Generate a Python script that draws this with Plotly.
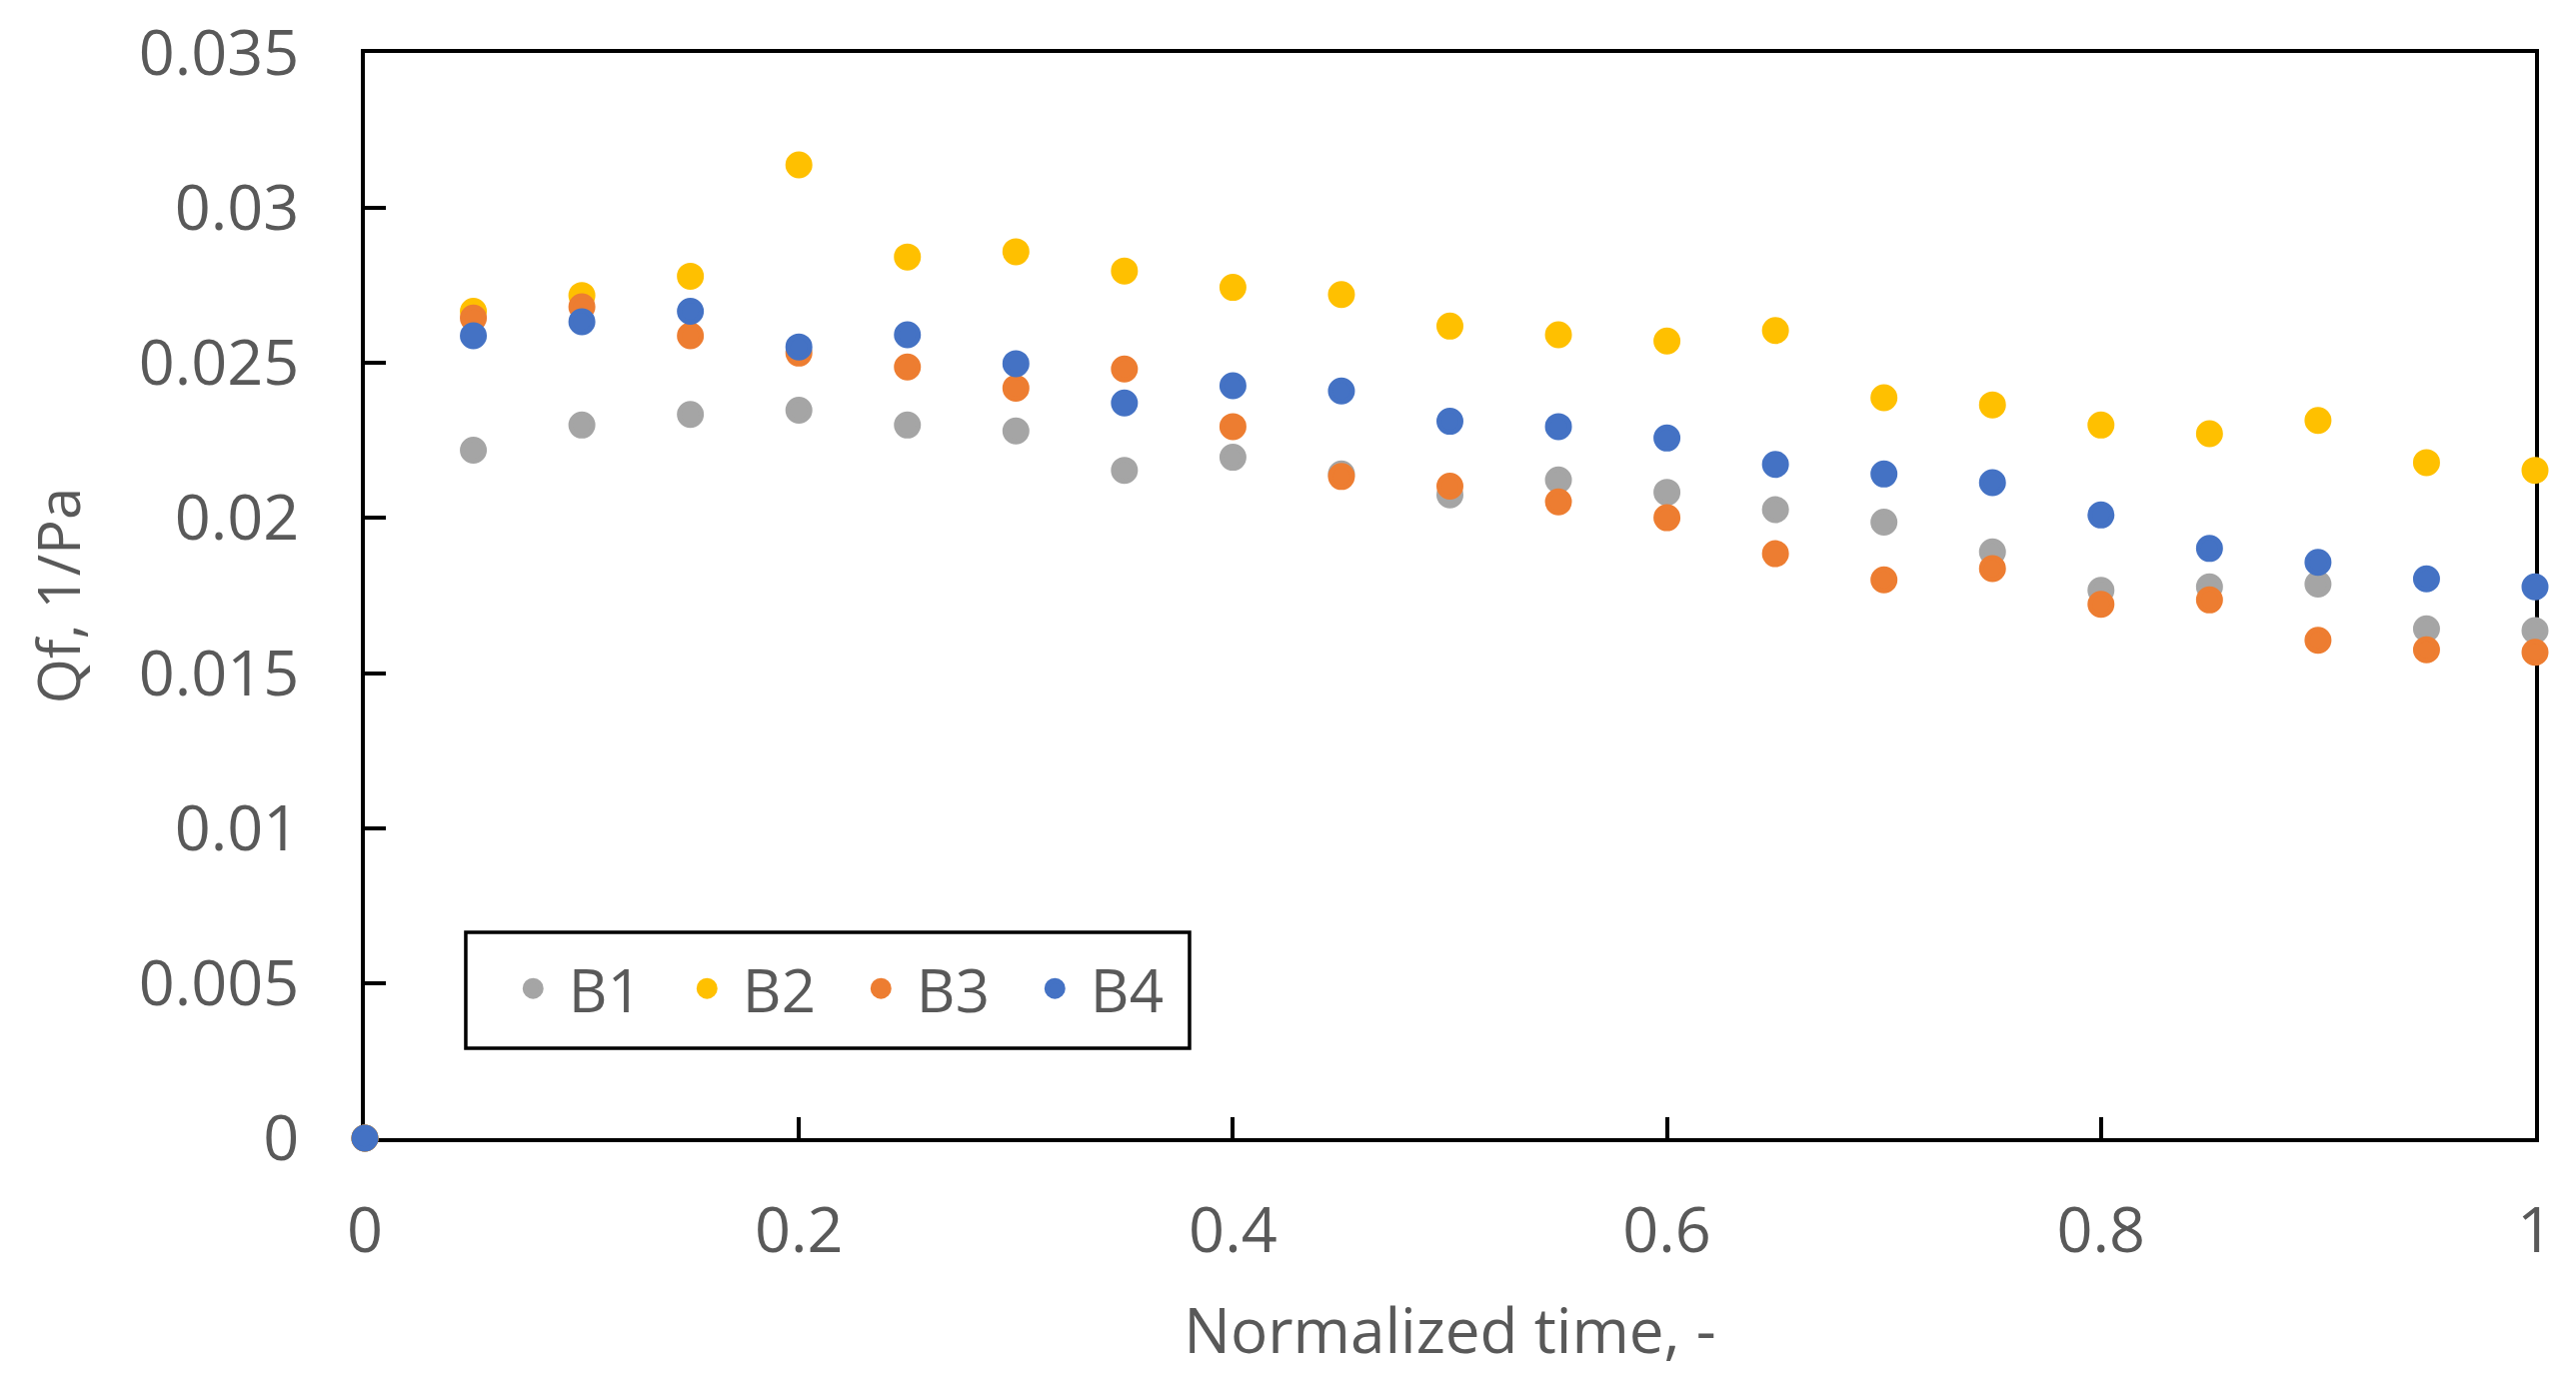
import plotly.graph_objects as go

x_vals = [0, 0.05, 0.1, 0.15, 0.2, 0.25, 0.3, 0.35, 0.4, 0.45, 0.5,
          0.55, 0.6, 0.65, 0.7, 0.75, 0.8, 0.85, 0.9, 0.95, 1.0]

b1 = [0, 0.02219, 0.02300, 0.02334, 0.02348, 0.02300, 0.02281, 0.02154, 0.02196, 0.02142, 0.02075,
      0.02123, 0.02083, 0.02027, 0.01987, 0.01891, 0.01767, 0.01778, 0.01787, 0.01643, 0.01637]
b2 = [0, 0.02667, 0.02718, 0.02780, 0.03139, 0.02842, 0.02859, 0.02797, 0.02744, 0.02721, 0.02619,
      0.02591, 0.02571, 0.02605, 0.02388, 0.02365, 0.02300, 0.02272, 0.02315, 0.02179, 0.02154]
b3 = [0, 0.02645, 0.02681, 0.02588, 0.02532, 0.02487, 0.02419, 0.02481, 0.02295, 0.02134, 0.02103,
      0.02052, 0.02001, 0.01885, 0.01801, 0.01837, 0.01722, 0.01736, 0.01606, 0.01575, 0.01567]
b4 = [0, 0.02588, 0.02633, 0.02667, 0.02552, 0.02591, 0.02498, 0.02371, 0.02427, 0.02410, 0.02312,
      0.02295, 0.02258, 0.02173, 0.02142, 0.02114, 0.02010, 0.01902, 0.01857, 0.01804, 0.01778]

series_names = ["B1", "B2", "B3", "B4"]
series_colors = ["#A5A5A5", "#FFC000", "#ED7D31", "#4472C4"]
series_values = [b1, b2, b3, b4]

x_tickvals = [0, 0.2, 0.4, 0.6, 0.8, 1]
x_ticktext = ["0", "0.2", "0.4", "0.6", "0.8", "1"]
y_tickvals = [0, 0.005, 0.01, 0.015, 0.02, 0.025, 0.03, 0.035]
y_ticktext = ["0", "0.005", "0.01", "0.015", "0.02", "0.025", "0.03", "0.035"]

FONT = "Open Sans"
TXT = "#595959"

fig = go.Figure()
for name, color, vals in zip(series_names, series_colors, series_values):
    fig.add_trace(go.Scatter(
        x=x_vals, y=vals, mode="markers", name="\u00a0" + name,
        marker=dict(color=color, size=22, line=dict(width=5, color=color)),
        cliponaxis=False,
    ))

axis_common = dict(
    showline=True, linecolor="black", linewidth=4, mirror=True,
    showgrid=False, zeroline=False, ticks="inside", tickcolor="black",
    tickwidth=4, ticklen=21, layer="below traces", automargin=False,
    tickfont=dict(family=FONT, size=63, color=TXT),
)

fig.update_layout(
    width=2569, height=1368,
    margin=dict(l=357, r=41, t=45, b=237),
    paper_bgcolor="white", plot_bgcolor="white",
    font=dict(family=FONT, color=TXT),
    xaxis=dict(range=[0, 1], tickmode="array", tickvals=x_tickvals, ticktext=x_ticktext,
               ticklabelstandoff=34,
               title=dict(text="Normalized time, -", font=dict(family=FONT, size=62, color=TXT), standoff=42),
               **axis_common),
    yaxis=dict(range=[0, 0.035], tickmode="array", tickvals=y_tickvals, ticktext=y_ticktext,
               ticklabelstandoff=49,
               title=dict(text="Qf, 1/Pa", font=dict(family=FONT, size=58, color=TXT), standoff=40),
               **axis_common),
    legend=dict(orientation="h", x=0.0683, y=0.138, xanchor="left", yanchor="middle",
                borderwidth=0, bgcolor="rgba(0,0,0,0)",
                font=dict(family=FONT, size=60, color=TXT),
                entrywidth=129, entrywidthmode="pixels",
                itemsizing="trace"),
    shapes=[dict(type="rect", xref="paper", yref="paper",
                 x0=0.0465, x1=0.380, y0=0.0829, y1=0.1897,
                 line=dict(color="black", width=3.5), fillcolor="rgba(0,0,0,0)")],
    showlegend=True,
)

fig.write_html("out.html")
